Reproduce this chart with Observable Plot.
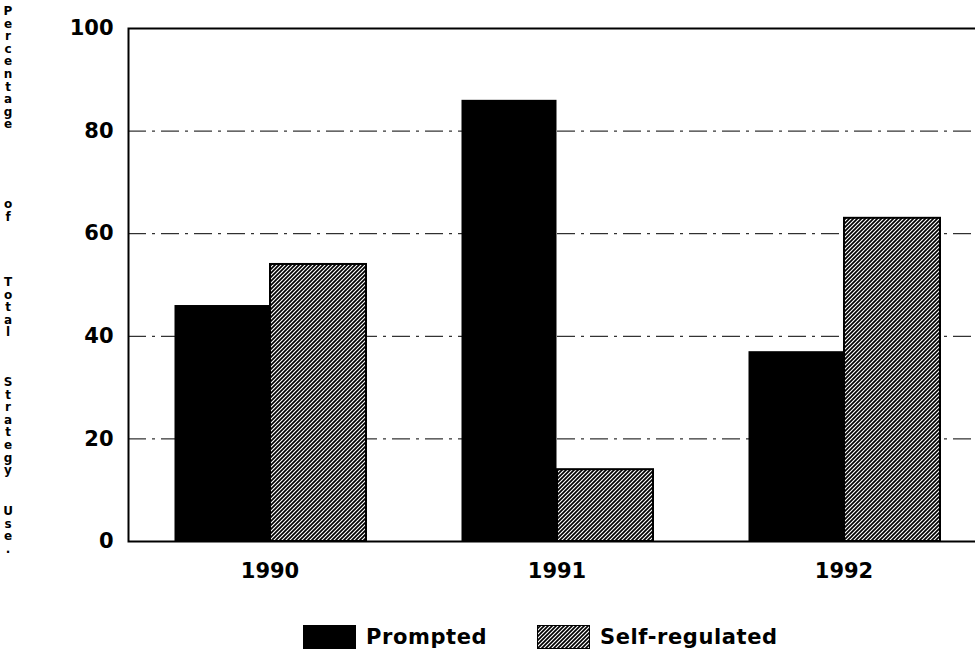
<!DOCTYPE html>
<html>
<head>
<meta charset="utf-8">
<script src="https://cdn.jsdelivr.net/npm/d3@7"></script>
<script src="https://cdn.jsdelivr.net/npm/@observablehq/plot@0.6"></script>
<style>
  html, body { margin: 0; padding: 0; background: #fff; }
  #wrap { position: relative; width: 975px; height: 653px; font-family: "DejaVu Sans", "Liberation Sans", sans-serif; font-weight: bold; color: #000; }
  #chart { position: absolute; left: 0; top: 0; }
  #ytitle { position: absolute; left: 0; top: 0; width: 16px; height: 600px; font-size: 12px; }
  #ytitle .word { position: absolute; left: 0; width: 16px; text-align: center; line-height: 12.6px; }
  #legend { position: absolute; left: 0; top: 600px; width: 975px; height: 53px; font-size: 21px; }
  .sw { position: absolute; top: 25px; height: 24px; border: 1px solid #000; box-sizing: border-box; }
  .lab { position: absolute; top: 24px; line-height: 26px; letter-spacing: 0.6px; }
</style>
</head>
<body>
<div id="wrap">
  <div id="chart"></div>
  <div id="ytitle"></div>
  <div id="legend"></div>
</div>
<script>
const years = ["1990", "1991", "1992"];
const prompted = [46, 86, 37];
const selfRegulated = [54, 14, 63];
const seriesNames = ["Prompted", "Self-regulated"];
const yTicks = [0, 20, 40, 60, 80, 100];
const gridTicks = [20, 40, 60, 80];
const yTitleWords = ["Percentage", "of", "Total", "Strategy", "Use."];

const rows = years.flatMap((y, i) => [
  {year: y, series: seriesNames[0], value: prompted[i]},
  {year: y, series: seriesNames[1], value: selfRegulated[i]}
]);

const plot = Plot.plot({
  width: 975,
  height: 600,
  marginLeft: 128,
  marginTop: 28,
  marginBottom: 59,
  marginRight: -2,
  style: {fontFamily: "'DejaVu Sans', 'Liberation Sans', sans-serif", fontWeight: "bold", fontSize: "21px", color: "#000", background: "#fff"},
  x: {domain: years, range: [125.5, 986.5], padding: 0, label: null, tickSize: 0, tickPadding: 22},
  y: {domain: [0, 100], ticks: yTicks, label: null, tickSize: 0, tickPadding: 15},
  marks: [
    Plot.ruleY(gridTicks, {stroke: "#000", strokeWidth: 1, strokeDasharray: "18,6,3,6"}),
    Plot.barY(rows.filter(d => d.series === seriesNames[0]), {
      x: "year", y: "value", fill: "#000", insetLeft: 48.5, insetRight: 143.5
    }),
    Plot.barY(rows.filter(d => d.series === seriesNames[1]), {
      x: "year", y: "value", fill: "url(#hatch)", stroke: "#000", strokeWidth: 2, insetLeft: 144, insetRight: 47
    }),
    Plot.frame({stroke: "#000", strokeWidth: 2})
  ]
});

const ns = "http://www.w3.org/2000/svg";
const defs = document.createElementNS(ns, "defs");
defs.innerHTML = `<pattern id="hatch" patternUnits="userSpaceOnUse" width="4" height="4">
  <rect width="4" height="4" fill="#fff"/>
  <path d="M-1,1 l2,-2 M0,4 l4,-4 M3,5 l2,-2" stroke="#000" stroke-width="1.7"/>
</pattern>`;
plot.insertBefore(defs, plot.firstChild);
document.getElementById("chart").appendChild(plot);

// vertical stacked y-axis title
const wordTops = [5, 198, 276, 376, 505];
const yt = document.getElementById("ytitle");
yTitleWords.forEach((w, i) => {
  const d = document.createElement("div");
  d.className = "word";
  d.style.top = wordTops[i] + "px";
  d.innerHTML = w.split("").map(c => `<div>${c}</div>`).join("");
  yt.appendChild(d);
});

// legend
const lg = document.getElementById("legend");
lg.innerHTML = `
  <div class="sw" style="left:303px;width:53px;background:#000"></div>
  <div class="lab" style="left:366px">${seriesNames[0]}</div>
  <svg class="sw" style="left:537px;width:53px;border:none" width="53" height="24">
    <rect x="0.5" y="0.5" width="52" height="23" fill="url(#hatch)" stroke="#000" stroke-width="1"/>
  </svg>
  <div class="lab" style="left:600px">${seriesNames[1]}</div>`;
</script>
</body>
</html>
